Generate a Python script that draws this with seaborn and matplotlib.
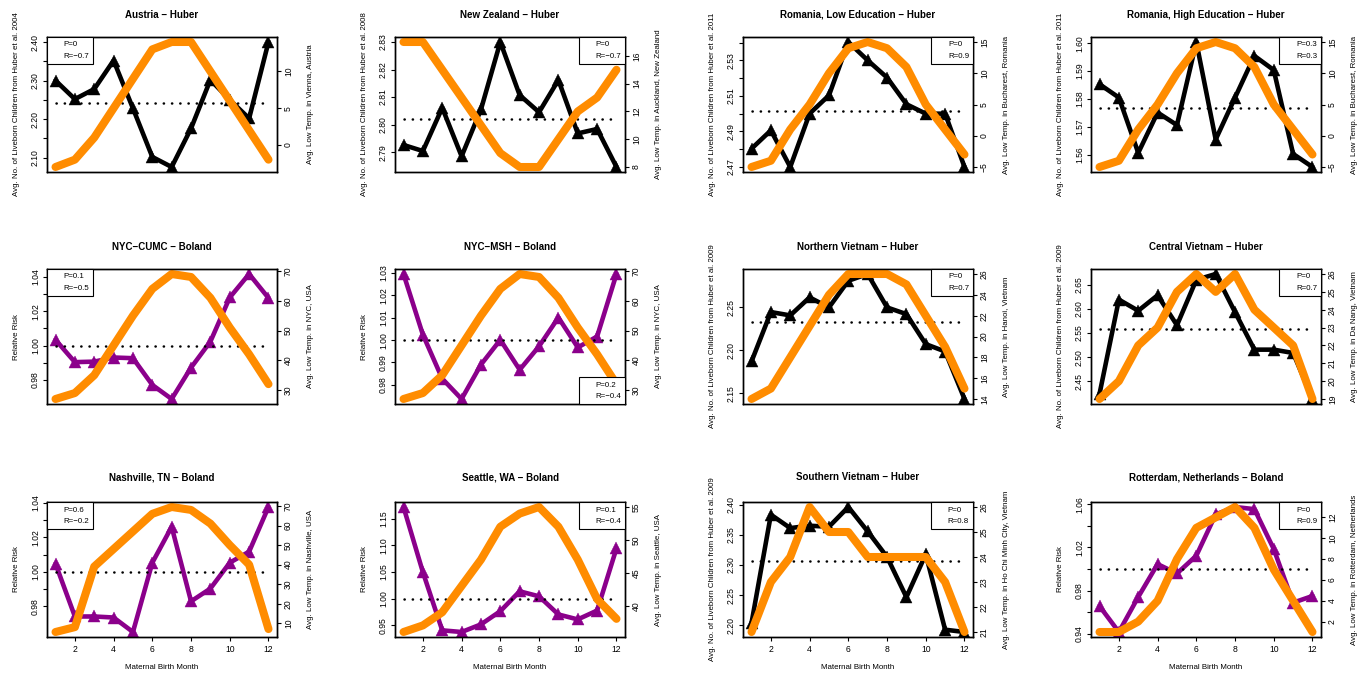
import matplotlib
matplotlib.use("Agg")
import matplotlib.pyplot as plt
import seaborn as sns
import pandas as pd
from matplotlib.lines import Line2D

# ---------------- data ----------------
months = list(range(1, 13))

austria_births = [2.300, 2.252, 2.278, 2.352, 2.228, 2.102, 2.076, 2.176, 2.302, 2.250, 2.202, 2.400]
vienna_temp = [-3, -2, 1, 5, 9, 13, 14, 14, 10, 6, 2, -2]

nz_births = [2.7926, 2.7904, 2.8061, 2.7885, 2.8055, 2.8300, 2.8107, 2.8045, 2.8162, 2.7968, 2.7984, 2.7846]
auckland_temp = [17, 17, 15, 13, 11, 9, 8, 8, 10, 12, 13, 15]

romania_low_births = [2.4803, 2.4906, 2.4700, 2.5000, 2.5103, 2.5403, 2.5300, 2.5203, 2.5053, 2.5000, 2.5000, 2.4700]
romania_high_births = [1.5853, 1.5805, 1.5606, 1.5751, 1.5706, 1.6005, 1.5654, 1.5805, 1.5955, 1.5904, 1.5602, 1.5555]
bucharest_temp = [-5, -4, 1, 5, 10, 14, 15, 14, 11, 5, 1, -3]

nyc_cumc_rr = [1.0033, 0.9903, 0.9906, 0.9930, 0.9926, 0.9770, 0.9688, 0.9871, 1.0023, 1.0280, 1.0417, 1.0277]
nyc_msh_rr = [1.0296, 1.0024, 0.9827, 0.9736, 0.9890, 1.0001, 0.9867, 0.9972, 1.0101, 0.9967, 1.0016, 1.0296]
nyc_temp = [27, 29, 35, 45, 55, 64, 69, 68, 61, 51, 42, 32]

north_vn_births = [2.187, 2.2446, 2.2407, 2.2617, 2.250, 2.2811, 2.2890, 2.250, 2.2422, 2.2072, 2.1986, 2.1432]
hanoi_temp = [14, 15, 18, 21, 24, 26, 26, 26, 25, 22, 19, 15]

central_vn_births = [2.4238, 2.619, 2.596, 2.628, 2.566, 2.660, 2.672, 2.593, 2.5155, 2.5155, 2.5086, 2.4134]
danang_temp = [19, 20, 22, 23, 25, 26, 25, 26, 24, 23, 22, 19]

nashville_rr = [1.0047, 0.9741, 0.9741, 0.9735, 0.9651, 1.0053, 1.0261, 0.9829, 0.9903, 1.0053, 1.0117, 1.0376]
nashville_temp = [5.5, 8, 39, 48, 57, 66, 69.5, 68, 61, 50, 40, 7]

seattle_rr = [1.172, 1.0497, 0.9404, 0.9373, 0.9516, 0.9764, 1.0137, 1.0043, 0.9702, 0.9609, 0.9776, 1.0944]
seattle_temp = [36, 37, 39, 43, 47, 52, 54, 55, 52, 47, 41, 38]

south_vn_births = [2.2039, 2.3833, 2.3611, 2.3650, 2.3633, 2.3960, 2.3556, 2.3133, 2.2467, 2.3178, 2.1928, 2.1890]
hcmc_temp = [21, 23, 24, 26, 25, 25, 24, 24, 24, 24, 23, 21]

rotterdam_rr = [0.9655, 0.9415, 0.9740, 1.0045, 0.9958, 1.0123, 1.0506, 1.0575, 1.0555, 1.0185, 0.9687, 0.9749]
rotterdam_temp = [1, 1, 2, 4, 8, 11, 12, 13, 11, 7, 4, 1]

left_series = [austria_births, nz_births, romania_low_births, romania_high_births,
               nyc_cumc_rr, nyc_msh_rr, north_vn_births, central_vn_births,
               nashville_rr, seattle_rr, south_vn_births, rotterdam_rr]
temp_series = [vienna_temp, auckland_temp, bucharest_temp, bucharest_temp,
               nyc_temp, nyc_temp, hanoi_temp, danang_temp,
               nashville_temp, seattle_temp, hcmc_temp, rotterdam_temp]

M = "\u2212"
titles = [f"Austria {M} Huber", f"New Zealand {M} Huber", f"Romania, Low Education {M} Huber",
          f"Romania, High Education {M} Huber", f"NYC{M}CUMC {M} Boland", f"NYC{M}MSH {M} Boland",
          f"Northern Vietnam {M} Huber", f"Central Vietnam {M} Huber", f"Nashville, TN {M} Boland",
          f"Seattle, WA {M} Boland", f"Southern Vietnam {M} Huber", f"Rotterdam, Netherlands {M} Boland"]
study = ["Huber", "Huber", "Huber", "Huber", "Boland", "Boland",
         "Huber", "Huber", "Boland", "Boland", "Huber", "Boland"]
left_ylabels = ["Avg. No. of Liveborn Children from Huber et al. 2004",
                "Avg. No. of Liveborn Children from Huber et al. 2008",
                "Avg. No. of Liveborn Children from Huber et al. 2011",
                "Avg. No. of Liveborn Children from Huber et al. 2011",
                "Relative Risk", "Relative Risk",
                "Avg. No. of Liveborn Children from Huber et al. 2009",
                "Avg. No. of Liveborn Children from Huber et al. 2009",
                "Relative Risk", "Relative Risk",
                "Avg. No. of Liveborn Children from Huber et al. 2009",
                "Relative Risk"]
right_ylabels = ["Avg. Low Temp. in Vienna, Austria",
                 "Avg. Low Temp. in Auckland, New Zealand",
                 "Avg. Low Temp. in Bucharest, Romania",
                 "Avg. Low Temp. in Bucharest, Romania",
                 "Avg. Low Temp. in NYC, USA", "Avg. Low Temp. in NYC, USA",
                 "Avg. Low Temp. in Hanoi, Vietnam",
                 "Avg. Low Temp. in Da Nang, Vietnam",
                 "Avg. Low Temp. in Nashville, USA",
                 "Avg. Low Temp. in Seattle, USA",
                 "Avg. Low Temp. in Ho Chi Minh City, Vietnam",
                 "Avg. Low Temp. in Rotterdam, Netherlands"]
legend_p = ["P=0", "P=0", "P=0", "P=0.3", "P=0.1", "P=0.2", "P=0", "P=0", "P=0.6", "P=0.1", "P=0", "P=0"]
legend_r = [f"R={M}0.7", f"R={M}0.7", "R=0.9", "R=0.3", f"R={M}0.5", f"R={M}0.4",
            "R=0.7", "R=0.7", f"R={M}0.2", f"R={M}0.4", "R=0.8", "R=0.9"]
legend_loc = ["upper left", "upper right", "upper right", "upper right", "upper left", "lower right",
              "upper right", "upper right", "upper left", "upper right", "upper right", "upper right"]

left_ticks = [[2.10, 2.15, 2.20, 2.25, 2.30, 2.35, 2.40],
              [2.79, 2.80, 2.81, 2.82, 2.83],
              [2.47, 2.48, 2.49, 2.50, 2.51, 2.52, 2.53, 2.54],
              [1.56, 1.57, 1.58, 1.59, 1.60],
              [0.98, 0.99, 1.00, 1.01, 1.02, 1.03, 1.04],
              [0.98, 0.99, 1.00, 1.01, 1.02, 1.03],
              [2.15, 2.20, 2.25],
              [2.45, 2.50, 2.55, 2.60, 2.65],
              [0.98, 0.99, 1.00, 1.01, 1.02, 1.03, 1.04],
              [0.95, 1.00, 1.05, 1.10, 1.15],
              [2.20, 2.25, 2.30, 2.35, 2.40],
              [0.94, 0.96, 0.98, 1.00, 1.02, 1.04, 1.06]]
left_label_every = [2, 1, 2, 1, 2, 1, 1, 1, 2, 1, 1, 2]
right_ticks = [[0, 5, 10], [8, 10, 12, 14, 16], [-5, 0, 5, 10, 15], [-5, 0, 5, 10, 15],
               [30, 40, 50, 60, 70], [30, 40, 50, 60, 70], [14, 16, 18, 20, 22, 24, 26],
               [19, 20, 21, 22, 23, 24, 25, 26], [10, 20, 30, 40, 50, 60, 70],
               [40, 45, 50, 55], [21, 22, 23, 24, 25, 26], [2, 4, 6, 8, 10, 12]]
month_ticks = [2, 4, 6, 8, 10, 12]

# ---------------- style ----------------
sns.set_theme(style="ticks", rc={
    "axes.edgecolor": "black", "text.color": "black", "axes.labelcolor": "black",
    "xtick.color": "black", "ytick.color": "black", "axes.linewidth": 1.0,
})
plt.rcParams["font.family"] = ["Liberation Sans", "DejaVu Sans"]

W, H = 1367, 675
fig = plt.figure(figsize=(W / 100, H / 100), dpi=100)
col_left = [47, 395, 743, 1091]
row_top = [37, 269, 502]
aw, ah = 230, 135
colors = {"Huber": "black", "Boland": "#8B008B"}
orange = "#FF8C00"
FS = 5.7      # axis labels / legend
TFS = 6.2     # tick labels


def padded(vals):
    lo, hi = min(vals), max(vals)
    p = 0.04 * (hi - lo)
    return lo - p, hi + p


for i in range(12):
    r, c = divmod(i, 4)
    ax = fig.add_axes([col_left[c] / W, 1 - (row_top[r] + ah) / H, aw / W, ah / H])
    col = colors[study[i]]
    yvals = left_series[i]
    df = pd.DataFrame({"month": months, "value": yvals, "temp": temp_series[i]})

    sns.lineplot(data=df, x="month", y="value", ax=ax, color=col, linewidth=3.3,
                 marker="^", markersize=8.5, markeredgecolor=col, markeredgewidth=0.3,
                 solid_joinstyle="round", solid_capstyle="round", estimator=None, sort=False)
    ref = sum(yvals) / len(yvals) if study[i] == "Huber" else 1.0
    ax.plot([months[0], months[-1]], [ref, ref], color="black", linewidth=1.8,
            linestyle=(0, (0.1, 3.2)), dash_capstyle="round")

    ax2 = ax.twinx()
    sns.lineplot(data=df, x="month", y="temp", ax=ax2, color=orange, linewidth=5.8,
                 solid_joinstyle="round", solid_capstyle="round", estimator=None, sort=False)

    # left axis ticks
    lt = left_ticks[i]
    labs = [f"{t:.2f}" if k % left_label_every[i] == 0 else "" for k, t in enumerate(lt)]
    ax.set_yticks(lt, labs)
    ax.set_ylim(*padded(yvals))
    rt = right_ticks[i]
    ax2.set_yticks(rt, [str(t).replace("-", M) for t in rt])
    ax2.set_ylim(*padded(temp_series[i]))

    for a in (ax, ax2):
        a.tick_params(axis="y", length=3, width=0.8, labelsize=TFS, pad=2)
        for sp in a.spines.values():
            sp.set_linewidth(1.0)
            sp.set_color("black")
    for lab in ax.get_yticklabels():
        lab.set_rotation(90)
        lab.set_va("center")
    for lab in ax2.get_yticklabels():
        lab.set_rotation(90)
        lab.set_va("center")

    if r == 2:
        ax.set_xticks(month_ticks)
        ax.tick_params(axis="x", length=3, width=0.8, labelsize=TFS, pad=2.5)
        ax.set_xlabel("Maternal Birth Month", fontsize=FS)
        ax.xaxis.set_label_coords(0.5, -27 / ah)
    else:
        ax.set_xticks([])
        ax.set_xlabel("")
    ax.set_xlim(months[0] - 0.44, months[-1] + 0.44)

    ax.set_ylabel(left_ylabels[i], fontsize=FS)
    ax.yaxis.set_label_coords(-27 / aw, 0.5)
    ax2.set_ylabel(right_ylabels[i], fontsize=FS)
    ax2.yaxis.set_label_coords(1 + 29.5 / aw, 0.5)

    ax.set_title(titles[i], fontsize=7, fontweight="bold", pad=14 if r < 2 else 15.5)

    handles = [Line2D([], [], color="none"), Line2D([], [], color="none")]
    leg = ax2.legend(handles, [legend_p[i], legend_r[i]], loc=legend_loc[i], borderaxespad=0,
                     fontsize=FS, handlelength=1.3, handletextpad=0.3, borderpad=0.5,
                     labelspacing=0.45, frameon=True, fancybox=False, edgecolor="black",
                     framealpha=1, facecolor="white")
    leg.get_frame().set_linewidth(0.8)

fig.savefig("out.png", dpi=100)
